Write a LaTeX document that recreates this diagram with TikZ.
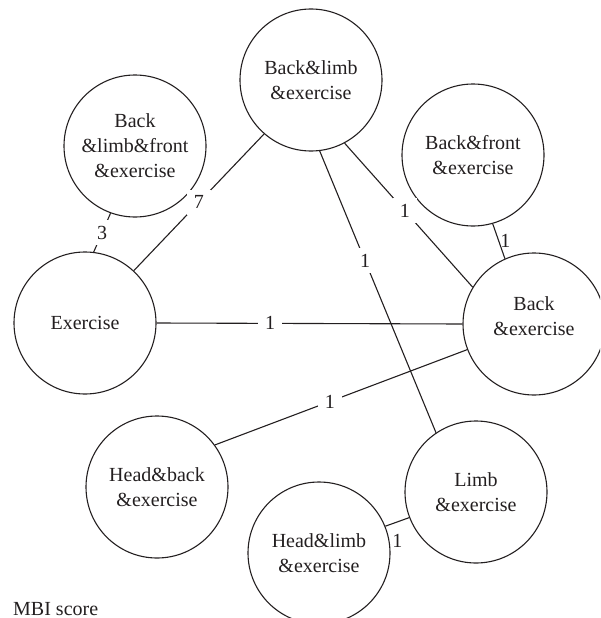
\documentclass[tikz,border=0pt]{standalone}
\usepackage{fontspec}
\setmainfont{Liberation Serif}
\definecolor{ink}{HTML}{231F20}
\begin{document}
\begin{tikzpicture}[x=1pt,y=-1pt,
  every node/.style={text=ink},
  circ/.style={circle,draw=ink,line width=1.1pt,minimum size=142pt,inner sep=0pt,
    align=center,font=\fontsize{20}{25}\selectfont},
  txt/.style={align=center,inner sep=0pt,font=\fontsize{20}{25}\selectfont},
  conn/.style={draw=ink,line width=1.1pt},
  wlab/.style={fill=white,inner xsep=7pt,inner ysep=6pt,font=\fontsize{20}{25}\selectfont},
  plab/.style={inner sep=1pt,font=\fontsize{20}{25}\selectfont}]
\useasboundingbox (0,0) rectangle (600,618);
\clip (0,0) rectangle (600,618);
% circles
\node[circ] (ble)  at (311,80)  {Back\&limb\\\&exercise};
\node[circ] (blfe) at (135,146) {Back\\\&limb\&front\\\&exercise};
\node[circ] (bfe)  at (473,155) {Back\&front\\\&exercise};
\node[circ] (ex)   at (85,323)  {Exercise};
\node[circ] (be)   at (534,324) {};
\node[txt]  (betext) at (534,316) {Back\\\&exercise};
\node[circ] (hbe)  at (157,487) {Head\&back\\\&exercise};
\node[circ] (le)   at (476,492) {Limb\\\&exercise};
\node[circ] (hle)  at (319,553) {Head\&limb\\\&exercise};
% connectors
\draw[conn] (blfe.250) -- node[wlab,pos=0.5] (l3) {3} (ex.83);
\draw[conn] (ex.47) -- node[wlab,pos=0.5] (l7) {7} (ble.229);
\draw[conn] (ble.298) -- node[wlab,pos=0.47] (lc) {1} (be.149);
\draw[conn] (ble.277) -- node[wlab,pos=0.39] (ld) {1} (le.124);
\draw[conn] (bfe.286) -- node[plab,pos=0.5,anchor=west] (le1) {1} (be.114);
\draw[conn] (ex.0) -- node[wlab,pos=0.371] (lf) {1} (be.180);
\draw[conn] (hbe.36) -- node[wlab,pos=0.456] (lg) {1} (be.201.5);
\draw[conn] (hle.22) -- node[plab,pos=0.5,yshift=-19pt] (lh) {1} (le.201);
% caption
\node[anchor=base west,inner sep=0pt,font=\fontsize{20}{25}\selectfont] (mbi) at (13,615) {MBI score};
\end{tikzpicture}
\end{document}
